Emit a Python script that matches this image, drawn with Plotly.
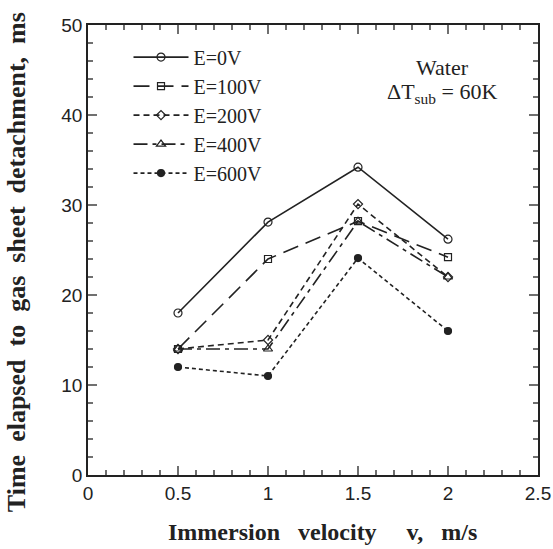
import plotly.graph_objects as go

velocity = [0.5, 1.0, 1.5, 2.0]
t_0V = [18.0, 28.1, 34.2, 26.2]
t_100V = [14.0, 24.0, 28.2, 24.2]
t_200V = [14.0, 15.0, 30.1, 22.0]
t_400V = [14.0, 14.0, 28.2, 22.0]
t_600V = [12.0, 11.0, 24.1, 16.0]

x_major_ticks = [0.5, 1.0, 1.5, 2.0]
x_minor_ticks = [0.1, 0.2, 0.3, 0.4, 0.6, 0.7, 0.8, 0.9, 1.1, 1.2, 1.3, 1.4,
                 1.6, 1.7, 1.8, 1.9, 2.1, 2.2, 2.3, 2.4]
y_major_ticks = [10, 20, 30, 40]
y_minor_ticks = [2, 4, 6, 8, 12, 14, 16, 18, 22, 24, 26, 28, 32, 34, 36, 38,
                 42, 44, 46, 48]

series = [
    ("E=0V", t_0V, "solid", "circle-open", 8),
    ("E=100V", t_100V, "16px,8px", "square-open", 7),
    ("E=200V", t_200V, "6px,4px", "diamond-open", 7),
    ("E=400V", t_400V, "14px,5px,4px,5px", "triangle-up-open", 8),
    ("E=600V", t_600V, "4px,3px", "circle", 7),
]

fig = go.Figure()
for name, vals, dash, sym, ms in series:
    fig.add_trace(go.Scatter(
        x=velocity, y=vals, name=name, mode="lines+markers",
        line=dict(color="#222222", width=1.6, dash=dash),
        marker=dict(symbol=sym, size=ms, color="#222222",
                    line=dict(color="#222222", width=1.2)),
    ))

serif = "Liberation Serif, Times New Roman, serif"
sans = "Liberation Sans, Arial, sans-serif"

plot_w, plot_h = 450.0, 450.0
major_len, minor_len = 9.0, 5.0

fig.update_layout(
    template="none",
    width=553, height=549,
    margin=dict(l=88, r=15, t=25, b=74, autoexpand=False),
    paper_bgcolor="white", plot_bgcolor="rgba(0,0,0,0)",
    showlegend=True,
    legend=dict(x=0.09, y=0.972, xanchor="left", yanchor="top",
                bgcolor="rgba(0,0,0,0)", font=dict(family=serif, size=20, color="#222"),
                tracegroupgap=0, itemwidth=55),
    font=dict(family=sans, color="#222"),
)

# inward-pointing tick marks on all four sides of the frame
tick_line = dict(color="#222", width=1.3)
for ticks, ln in [(x_major_ticks, major_len), (x_minor_ticks, minor_len)]:
    f = ln / plot_h
    for v in ticks:
        fig.add_shape(type="line", xref="x", yref="paper", x0=v, x1=v, y0=0, y1=f,
                      line=tick_line, layer="above")
        fig.add_shape(type="line", xref="x", yref="paper", x0=v, x1=v, y0=1, y1=1 - f,
                      line=tick_line, layer="above")
for ticks, ln in [(y_major_ticks, major_len), (y_minor_ticks, minor_len)]:
    f = ln / plot_w
    for v in ticks:
        fig.add_shape(type="line", xref="paper", yref="y", x0=0, x1=f, y0=v, y1=v,
                      line=tick_line, layer="above")
        fig.add_shape(type="line", xref="paper", yref="y", x0=1, x1=1 - f, y0=v, y1=v,
                      line=tick_line, layer="above")

fig.layout.xaxis.update(
    range=[0, 2.5], tick0=0, dtick=0.5, ticks="",
    showline=True, linecolor="#222", linewidth=1.8, mirror=True,
    showgrid=False, zeroline=False, automargin=False,
    tickfont=dict(family=sans, size=19, color="#222"),
)
fig.layout.yaxis.update(
    range=[0, 50], tick0=0, dtick=10, ticks="",
    showline=True, linecolor="#222", linewidth=1.8, mirror=True,
    showgrid=False, zeroline=False, automargin=False,
    tickfont=dict(family=sans, size=19, color="#222"),
)
fig.add_annotation(xref="paper", yref="paper", x=-0.16, y=0.473, textangle=-90,
                   text="<b>Time  elapsed  to  gas  sheet  detachment,  ms</b>",
                   xanchor="center", yanchor="middle", showarrow=False,
                   font=dict(family=serif, size=26, color="#222"))
fig.add_annotation(xref="paper", yref="paper", x=0.522, y=-0.127,
                   text="<b>Immersion   velocity     v,   m/s</b>",
                   xanchor="center", yanchor="middle", showarrow=False,
                   font=dict(family=serif, size=24, color="#222"))
fig.add_annotation(xref="paper", yref="paper", x=0.787, y=0.905, text="Water",
                   xanchor="center", yanchor="middle",
                   showarrow=False, font=dict(family=serif, size=22, color="#222"))
fig.add_annotation(xref="paper", yref="paper", x=0.787, y=0.848,
                   text="ΔT<sub>sub</sub> = 60K", xanchor="center", yanchor="middle",
                   showarrow=False, font=dict(family=serif, size=22, color="#222"))

fig.write_html("out.html")
